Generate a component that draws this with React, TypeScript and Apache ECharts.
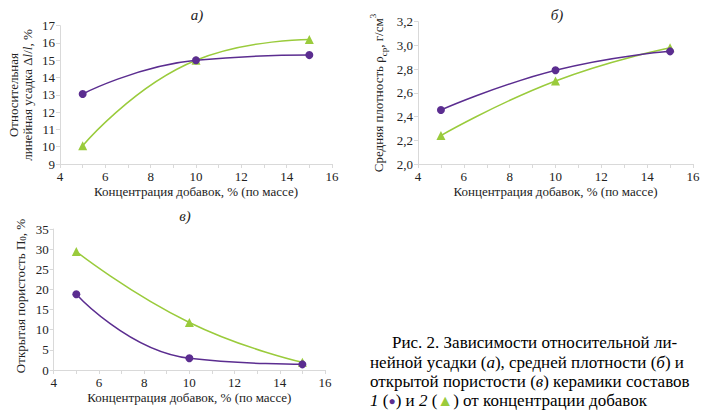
import React, { useEffect, useRef } from "react";
import * as echarts from "echarts";

const xValues = [5, 10, 15];
const shrink1 = [13.05, 15.0, 15.3];
const shrink2 = [10.05, 15.0, 16.2];
const density1 = [2.455, 2.79, 2.95];
const density2 = [2.24, 2.7, 2.98];
const porosity1 = [18.8, 2.9, 1.4];
const porosity2 = [29.4, 11.8, 1.9];

const xAxisTitle = "Концентрация добавок, % (по массе)";
const panelTitles = ["а)", "б)", "в)"];
const captionLines = [
  "Рис. 2. Зависимости относительной ли-",
  "нейной усадки ({i|а}), средней плотности ({i|б}) и",
  "открытой пористости ({i|в}) керамики составов",
  "{i|1} ({c|●}) и {i|2} ({t|▲}) от концентрации добавок",
];

const PURPLE = "#5b2d90";
const GREEN = "#9acb3c";
const AXIS = "#d9d9d9";
const FONT = "Liberation Serif";

const pairs = (ys: number[]) => xValues.map((x, i) => [x, ys[i]]);

export default function App() {
  const ref = useRef<HTMLDivElement>(null);
  useEffect(() => {
    if (!ref.current) return;
    document.body.style.margin = "0";
    const chart = echarts.init(ref.current, null, { renderer: "svg" });
    const grids = [
      { left: 60, top: 25.7, width: 272, height: 138.3 },
      { left: 418, top: 21.7, width: 275, height: 142.3 },
      { left: 53.7, top: 229, width: 271.3, height: 141 },
    ];
    const yCfg = [
      { min: 9, max: 17, interval: 1, fmt: (v: number) => String(v) },
      { min: 2, max: 3.2, interval: 0.2, fmt: (v: number) => v.toFixed(1).replace(".", ",") },
      { min: 0, max: 35, interval: 5, fmt: (v: number) => String(v) },
    ];
    const xAxis = grids.map((_, i) => ({
      type: "value",
      gridIndex: i,
      min: 4,
      max: 16,
      interval: 2,
      name: xAxisTitle,
      nameLocation: "middle",
      nameGap: 21,
      nameTextStyle: { fontFamily: FONT, fontSize: 13, color: "#222" },
      axisLine: { show: true, lineStyle: { color: AXIS } },
      axisTick: { show: true, length: 4, lineStyle: { color: AXIS } },
      minorTick: { show: true, splitNumber: 2, length: 4, lineStyle: { color: AXIS } },
      splitLine: { show: false },
      axisLabel: { fontFamily: FONT, fontSize: 13, color: "#222", margin: 6 },
    }));
    const yAxis = yCfg.map((c, i) => ({
      type: "value",
      gridIndex: i,
      min: c.min,
      max: c.max,
      interval: c.interval,
      axisLine: { show: true, lineStyle: { color: AXIS } },
      axisTick: { show: true, length: 4, lineStyle: { color: AXIS } },
      splitLine: { show: false },
      axisLabel: { fontFamily: FONT, fontSize: 13, color: "#222", margin: 5, formatter: c.fmt },
    }));
    const mk = (i: number, data: number[], purple: boolean) => ({
      type: "line",
      xAxisIndex: i,
      yAxisIndex: i,
      data: pairs(data),
      smooth: 0.5,
      symbol: purple ? "circle" : "triangle",
      symbolSize: purple ? 8 : 9,
      lineStyle: { color: purple ? PURPLE : GREEN, width: 1.5 },
      itemStyle: { color: purple ? PURPLE : GREEN },
      z: purple ? 3 : 2,
    });
    const rich = {
      i: { fontStyle: "italic", fontFamily: FONT, fontSize: 13 },
      sub: { fontSize: 9, fontFamily: FONT, verticalAlign: "bottom", lineHeight: 10 },
      sup: { fontSize: 9, fontFamily: FONT, verticalAlign: "top", lineHeight: 20 },
    };
    const rotText = (x: number, y: number, text: string) => ({
      type: "text",
      x,
      y,
      rotation: Math.PI / 2,
      style: {
        text,
        fontFamily: FONT,
        fontSize: 13,
        fill: "#222",
        align: "center",
        verticalAlign: "middle",
        lineHeight: 14,
        rich,
      },
    });
    const capRich = {
      i: { fontStyle: "italic", fontFamily: FONT, fontSize: 17, fill: "#000" },
      c: { fontFamily: FONT, fontSize: 12, fill: PURPLE },
      t: { fontFamily: FONT, fontSize: 16, fill: GREEN },
    };
    const captionX = [392, 370, 370, 370];
    const captionY = [342, 362, 381.5, 400.5];
    chart.setOption({
      animation: false,
      textStyle: { fontFamily: FONT },
      grid: grids,
      xAxis,
      yAxis,
      series: [
        mk(0, shrink1, true),
        mk(0, shrink2, false),
        mk(1, density1, true),
        mk(1, density2, false),
        mk(2, porosity1, true),
        mk(2, porosity2, false),
      ],
      graphic: [
        { type: "text", x: 197, y: 15, style: { text: panelTitles[0], fontFamily: FONT, fontSize: 15, fontStyle: "italic", fill: "#222", align: "center", verticalAlign: "middle" } },
        { type: "text", x: 557, y: 15, style: { text: panelTitles[1], fontFamily: FONT, fontSize: 15, fontStyle: "italic", fill: "#222", align: "center", verticalAlign: "middle" } },
        { type: "text", x: 185, y: 216, style: { text: panelTitles[2], fontFamily: FONT, fontSize: 15, fontStyle: "italic", fill: "#222", align: "center", verticalAlign: "middle" } },
        rotText(20, 95, "Относительная\nлинейная усадка Δ{i|l}/{i|l}, %"),
        rotText(378, 93, "Средняя плотность ρ{sub|ср}, г/см{sup|3}"),
        rotText(20, 296, "Открытая пористость П{sub|0}, %"),
        ...captionLines.map((t, k) => ({
          type: "text",
          x: captionX[k],
          y: captionY[k],
          style: {
            text: t,
            fontFamily: FONT,
            fontSize: 17,
            fill: "#000",
            align: "left",
            verticalAlign: "middle",
            rich: capRich,
          },
        })),
      ],
    });
    return () => chart.dispose();
  }, []);
  return <div ref={ref} style={{ width: 718, height: 415 }} />;
}
